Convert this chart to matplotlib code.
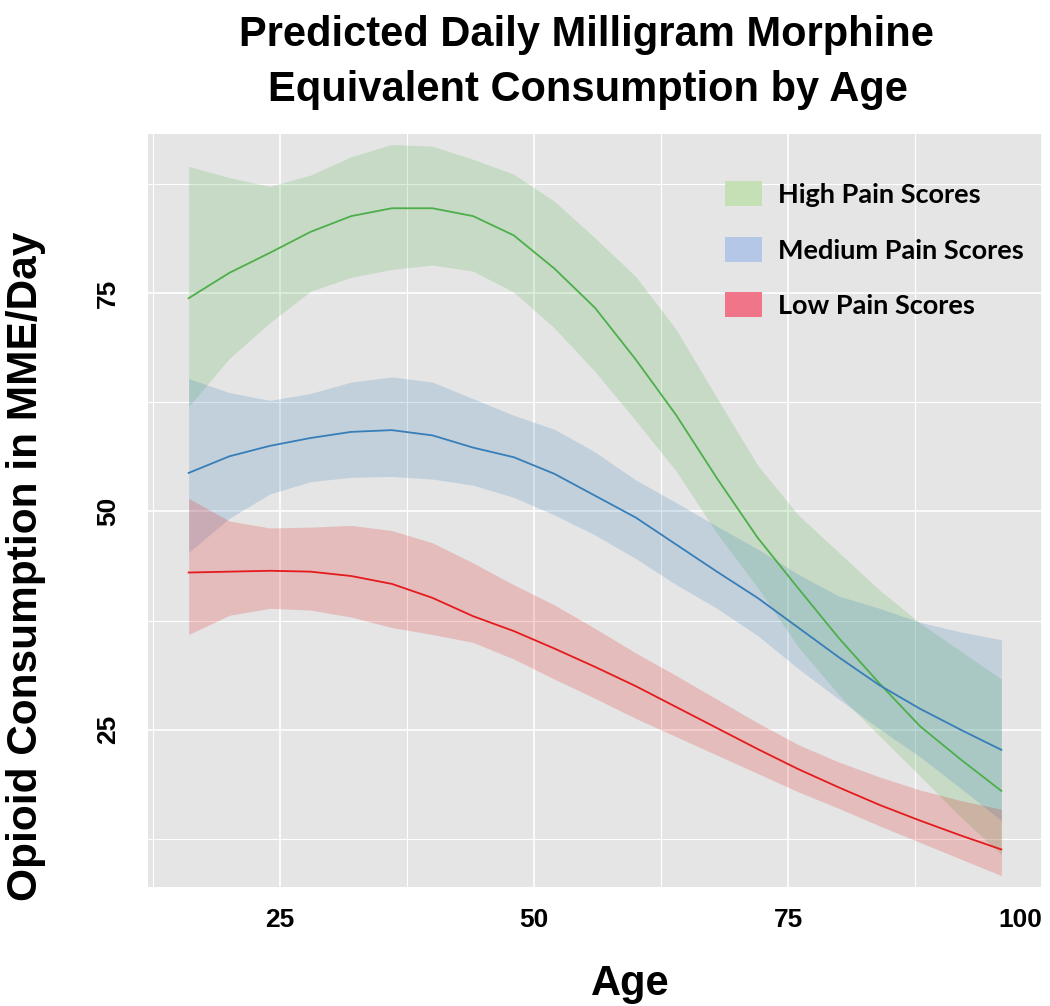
import matplotlib
matplotlib.use("Agg")
import matplotlib.pyplot as plt
from matplotlib import font_manager
from matplotlib.patches import Patch
from matplotlib.ticker import MultipleLocator

age = [16, 20, 24, 28, 32, 36, 40, 44, 48, 52, 56, 60, 64, 68, 72, 76, 80, 84, 88, 92, 96]

high_fit = [74.4, 77.3, 79.6, 82.0, 83.8, 84.7, 84.7, 83.8, 81.6, 77.8, 73.3, 67.4, 61.0, 53.8, 47.0, 41.2, 35.5, 30.3, 25.4, 21.6, 18.0]
high_upper = [89.5, 88.2, 87.2, 88.5, 90.6, 92.0, 91.8, 90.3, 88.6, 85.5, 81.3, 76.9, 70.8, 63.0, 55.3, 49.6, 45.3, 41.0, 37.2, 34.0, 30.8]
high_lower = [62.0, 67.5, 71.6, 75.2, 76.8, 77.7, 78.2, 77.5, 75.1, 71.0, 66.0, 60.4, 54.6, 47.5, 41.3, 34.5, 29.0, 24.3, 19.7, 15.0, 10.7]

med_fit = [54.4, 56.3, 57.5, 58.4, 59.1, 59.3, 58.7, 57.3, 56.2, 54.3, 51.8, 49.3, 46.2, 43.1, 40.1, 36.7, 33.3, 30.1, 27.4, 25.0, 22.7]
med_upper = [65.2, 63.6, 62.7, 63.5, 64.8, 65.4, 64.8, 62.9, 61.0, 59.4, 56.8, 53.6, 51.0, 48.3, 45.7, 42.8, 40.3, 38.9, 37.3, 36.2, 35.3]
med_lower = [45.3, 49.2, 52.0, 53.4, 53.9, 54.0, 53.7, 53.0, 51.6, 49.6, 47.3, 44.6, 41.6, 38.9, 35.8, 32.0, 28.5, 25.1, 21.9, 18.3, 14.6]

low_fit = [43.0, 43.1, 43.2, 43.1, 42.6, 41.7, 40.1, 38.0, 36.3, 34.3, 32.2, 30.0, 27.6, 25.2, 22.8, 20.5, 18.4, 16.4, 14.6, 12.9, 11.3]
low_upper = [51.5, 48.9, 48.1, 48.2, 48.4, 47.8, 46.4, 44.1, 41.6, 39.3, 36.6, 33.8, 31.2, 28.5, 25.8, 23.3, 21.3, 19.6, 18.1, 16.9, 15.9]
low_lower = [35.9, 38.1, 38.9, 38.7, 37.9, 36.7, 35.9, 35.0, 33.1, 30.8, 28.6, 26.3, 24.2, 22.1, 20.0, 17.9, 16.0, 14.0, 12.1, 10.2, 8.3]

labels = ["High Pain Scores", "Medium Pain Scores", "Low Pain Scores"]
line_colors = ["#4DAF4A", "#377EB8", "#E41A1C"]
legend_colors = ["#C5E0B4", "#B4C7E7", "#F07589"]
x_ticks = [25, 50, 75, 100]
y_ticks = [25, 50, 75]

names = {f.name for f in font_manager.fontManager.ttflist}
narrow = "Liberation Sans Narrow" if "Liberation Sans Narrow" in names else "Liberation Sans"
legend_font = "Lato" if "Lato" in names else "DejaVu Sans"

fig = plt.figure(figsize=(10.5, 10.06), dpi=100)
ax = fig.add_axes([148 / 1050, 1 - 887 / 1006, 894 / 1050, 753 / 1006])
ax.set_facecolor("#E5E5E5")
for s in ax.spines.values():
    s.set_visible(False)

series = [
    (high_fit, high_lower, high_upper),
    (med_fit, med_lower, med_upper),
    (low_fit, low_lower, low_upper),
]
for (fit, lo, hi), c in zip(series, line_colors):
    ax.fill_between(age, lo, hi, color=c, alpha=0.2, linewidth=0, zorder=2)
for (fit, lo, hi), c in zip(series, line_colors):
    ax.plot(age, fit, color=c, linewidth=1.3, zorder=3)

ax.set_xlim(12, 100)
ax.set_ylim(7.0, 93.2)
ax.set_xticks(x_ticks)
ax.set_yticks(y_ticks)
ax.xaxis.set_minor_locator(MultipleLocator(12.5))
ax.yaxis.set_minor_locator(MultipleLocator(12.5))
ax.grid(which="major", color="white", linewidth=1.2, zorder=1)
ax.grid(which="minor", color="white", linewidth=0.8, zorder=1)
ax.set_axisbelow(True)
ax.tick_params(which="both", length=0)
ax.tick_params(axis="x", pad=15)
ax.tick_params(axis="y", pad=20)

for t in ax.get_xticklabels():
    t.set_fontfamily(narrow)
    t.set_fontweight("bold")
    t.set_fontsize(19)
ax.get_xticklabels()[-1].set_horizontalalignment("right")
for t in ax.get_yticklabels():
    t.set_fontfamily(narrow)
    t.set_fontweight("bold")
    t.set_fontsize(19)
    t.set_rotation(90)
    t.set_verticalalignment("center")

fig.text(586 / 1050, 1 - 35 / 1006, "Predicted Daily Milligram Morphine", ha="center", va="center",
         fontsize=30, fontweight="bold", family=narrow)
fig.text(588 / 1050, 1 - 90 / 1006, "Equivalent Consumption by Age", ha="center", va="center",
         fontsize=30, fontweight="bold", family=narrow)
fig.text(630 / 1050, 1 - 995 / 1006, "Age", ha="center", va="baseline",
         fontsize=30, fontweight="bold", family=narrow)
fig.text(26 / 1050, 1 - 566 / 1006, "Opioid Consumption in MME/Day", ha="center", va="center",
         rotation=90, fontsize=30.5, fontweight="bold", family=narrow)

handles = [Patch(facecolor=c, edgecolor="none") for c in legend_colors]
ax.legend(handles, labels, loc="upper left", bbox_to_anchor=(0.6454, 0.937), frameon=False,
          borderpad=0, borderaxespad=0, handlelength=1.37, handleheight=1.03,
          handletextpad=0.6, labelspacing=1.1,
          prop={"family": legend_font, "weight": "bold", "size": 19.5})

fig.savefig("out.png", dpi=100)
